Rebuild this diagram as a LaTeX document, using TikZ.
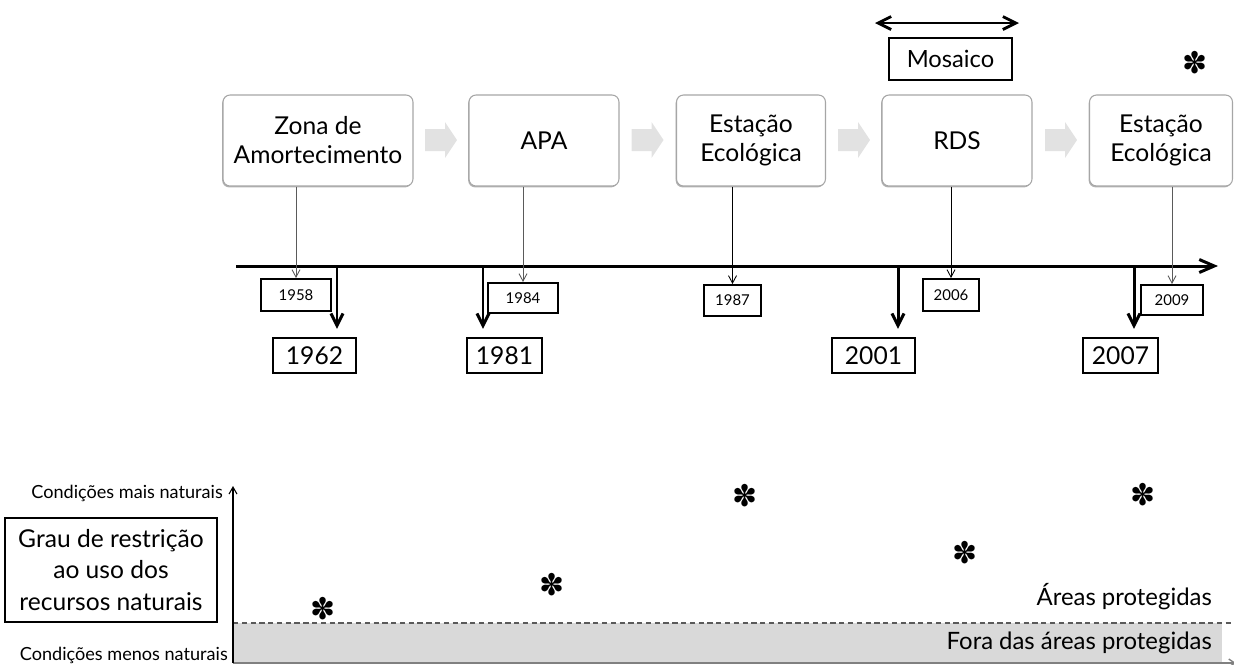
\documentclass[tikz,border=0pt]{standalone}
\usepackage{fontspec}
\setmainfont{Lato}
\newfontfamily\dingfont{DejaVu Sans}
\usetikzlibrary{arrows.meta,shadows}
\definecolor{frame}{HTML}{A6A6A6}
\definecolor{band}{HTML}{D9D9D9}
\definecolor{chev}{HTML}{E2E2E2}
\definecolor{wire}{HTML}{5A5A5A}

\begin{document}
\begin{tikzpicture}[
  x=0.02cm, y=-0.02cm, line width=.5pt,
  stage/.style={draw=frame, fill=white, rounded corners=4pt, line width=.6pt,
    align=center, minimum height=1.82cm, inner sep=2pt,
    font=\fontsize{14}{16.5}\selectfont,
    drop shadow={shadow xshift=-.5pt, shadow yshift=-.8pt, fill=black, opacity=.3}},
  decree/.style={draw, line width=1.1pt, inner sep=0pt, font=\fontsize{8.5}{9}\selectfont},
  event/.style={draw, line width=1.4pt, inner sep=0pt, minimum width=1.66cm,
    minimum height=.7cm, font=\fontsize{14}{15}\selectfont},
  timeline/.style={line width=1.7pt, -{Straight Barb[length=3mm,width=2.6mm]}},
  fall/.style={line width=1.7pt, shorten >=.16cm, -{Straight Barb[length=2.4mm,width=2.4mm]}},
  drop/.style={line width=.5pt, -{Straight Barb[length=1.5mm,width=1.6mm]}},
  star/.style={font=\dingfont\fontsize{17}{17}\selectfont, inner sep=0pt},
  note/.style={font=\fontsize{10.3}{12}\selectfont, inner sep=1pt},
  zone/.style={font=\fontsize{13.6}{16}\selectfont, inner sep=1pt, anchor=east},
]
  \useasboundingbox (0,0) rectangle (1234,664);

  % Sequence of protected-area categories.
  \node[stage, minimum width=3.8cm]  (b1) at (318,140.5)  {Zona de\\Amortecimento};
  \node[stage, minimum width=3cm]    (b2) at (544,140.5)  {APA};
  \node[stage, minimum width=2.98cm] (b3) at (751,140.5)  {Estação\\Ecológica};
  \node[stage, minimum width=3cm]    (b4) at (957,140.5)  {RDS};
  \node[stage, minimum width=2.86cm] (b5) at (1161,140.5) {Estação\\Ecológica};
  \foreach \x in {441, 647.5, 854, 1061}
    \fill[chev] (\x-16,129) -- (\x+4,129) -- (\x+4,122) -- (\x+16,140)
      -- (\x+4,158) -- (\x+4,151) -- (\x-16,151) -- cycle;

  % Mosaic bracket over RDS.
  \node[draw, line width=1.6pt, minimum width=2.46cm, minimum height=.84cm,
    font=\fontsize{13.5}{15}\selectfont] (mos) at (950.5,59) {Mosaico};
  \coordinate (mosL) at (875,23);
  \coordinate (mosR) at (1019,23);
  \draw[line width=1.6pt, {Straight Barb[length=2.6mm,width=2.6mm]}-{Straight Barb[length=2.6mm,width=2.6mm]}] (mosL) -- (mosR);

  % Time axis.
  \coordinate (tl0) at (236,266);
  \coordinate (tl1) at (1218,266);
  \draw[timeline] (tl0) -- (tl1);

  % Creation years of each category.
  \node[decree, minimum width=1.4cm,  minimum height=.64cm] (uc1958) at (296,295)   {1958};
  \node[decree, minimum width=1.4cm,  minimum height=.6cm]  (uc1984) at (523,298)   {1984};
  \node[decree, minimum width=1.14cm, minimum height=.62cm] (uc1987) at (732.5,300.5) {1987};
  \node[decree, minimum width=1.12cm, minimum height=.64cm] (uc2006) at (951,295)   {2006};
  \node[decree, minimum width=1.24cm, minimum height=.6cm]  (uc2009) at (1172,300)  {2009};
  \foreach \b/\y/\c in {b1/uc1958/wire, b2/uc1984/wire, b3/uc1987/black,
                        b4/uc2006/black, b5/uc2009/wire}
    \draw[drop, draw=\c] (\b.south -| \y.north) -- (\y.north);

  % Events on the territory.
  \node[event] (ev1962) at (314.5,355.5) {1962};
  \node[event, minimum width=1.5cm] (ev1981) at (504.5,355.5) {1981};
  \node[event] (ev2001) at (873.5,355.5) {2001};
  \node[event, minimum width=1.5cm] (ev2007) at (1120.5,355.5) {2007};
  \foreach \x/\y in {337/1962, 483/1981, 898/2001, 1134/2007} {
    \coordinate (t\y) at (\x,266);
    \draw[fall] (t\y) -- (t\y |- ev\y.north);
  }

  % Degree of restriction.
  \coordinate (org) at (233,663);
  \coordinate (ytop) at (233,486);
  \coordinate (xend) at (1236,663);
  \fill[band] (233,623) rectangle (1222,663);
  \draw[draw=wire, dash pattern=on 3pt off 2pt, line width=.7pt] (233,623) -- (1231,623);
  \draw[draw=gray, line width=.8pt, -{Straight Barb[length=1.2mm,width=1.6mm]}] (org) -- (xend);
  \draw[line width=.6pt, -{Straight Barb[length=1.4mm,width=1.6mm]}] (org) -- (ytop);

  \node[note, anchor=east] (hi) at (225,493) {Condições mais naturais};
  \node[note, anchor=east] (lo) at (230,655) {Condições menos naturais};
  \node[draw, line width=.6pt, align=center, minimum width=4.24cm, minimum height=2.08cm,
    font=\fontsize{14}{18}\selectfont] (grau) at (111,570)
    {Grau de restrição\\ao uso dos\\recursos naturais};
  \node[zone] (ap) at (1214,597) {Áreas protegidas};
  \node[zone] (fap) at (1214,643) {Fora das áreas protegidas};

  % Markers.
  \foreach \x/\y/\n in {1195/63/0, 323/609/1, 552/585/2, 745/496/3, 965/553/4, 1143/495/5}
    \node[star] (st\n) at (\x,\y) {✽};
\end{tikzpicture}
\end{document}
